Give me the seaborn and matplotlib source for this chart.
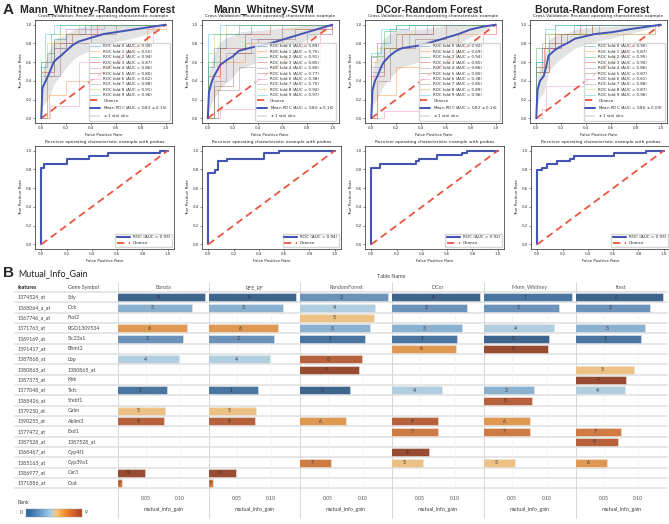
import numpy as np
import pandas as pd
import seaborn as sns
import matplotlib.pyplot as plt
from matplotlib.colors import LinearSegmentedColormap

sns.set_theme(style="white")
plt.rcParams["font.family"] = ["DejaVu Sans"]

W, H = 669, 524

# ---------------- A: cross-validated ROC panels ----------------
panel_titles = ["Mann_Whitney-Random Forest", "Mann_Whitney-SVM",
                "DCor-Random Forest", "Boruta-Random Forest"]

# fold curves: corner points of each step curve (fpr, tpr)
mwrf_fold_fpr = [[0, 0, .05, .1, .2, .35, 1], [0, .06, .2, .47, .7, .85, 1],
                 [0, 0, .08, .15, 1], [0, 0, .1, .25, .45, 1], [0, 0, .1, .2, .5, 1],
                 [0, .05, .15, .4, .6, 1], [0, .07, .3, .6, .9, 1], [0, 0, .1, .2, .4, 1],
                 [0, 0, .05, .15, .3, 1], [0, 0, .03, .1, 1]]
mwrf_fold_tpr = [[0, .55, .7, .85, .9, 1, 1], [0, .25, .4, .55, .75, .95, 1],
                 [0, .6, .9, 1, 1], [0, .5, .8, .9, 1, 1], [0, .6, .75, .95, 1, 1],
                 [0, .45, .8, .9, 1, 1], [0, .13, .6, .8, 1, 1], [0, .45, .75, .9, 1, 1],
                 [0, .6, .8, .9, 1, 1], [0, .4, .9, 1, 1]]
mwrf_fold_auc = [0.90, 0.55, 0.94, 0.87, 0.86, 0.80, 0.62, 0.88, 0.91, 0.96]
mwrf_mean_fpr = [0, .01, .03, .05, .07, .1, .13, .16, .2, .25, .3, .4, .5, .6, .75, .9, 1]
mwrf_mean_tpr = [0, .33, .38, .44, .5, .6, .64, .67, .72, .78, .82, .86, .9, .92, .95, .98, 1]
mwrf_std_tpr = [0, .2, .22, .24, .25, .24, .22, .2, .18, .16, .15, .13, .11, .1, .09, .06, 0]
mwrf_auc = (0.82, 0.15)

mwsvm_fold_fpr = [[0, 0, .05, .15, .35, 1], [0, .05, .1, .3, .6, 1], [0, 0, .1, .25, 1],
                  [0, 0, .1, .3, .5, 1], [0, .05, .15, .35, .6, 1], [0, .05, .2, .4, .7, 1],
                  [0, .1, .45, .75, .9, 1], [0, .08, .25, .5, .8, 1], [0, 0, .05, .15, 1],
                  [0, 0, .1, 1]]
mwsvm_fold_tpr = [[0, .55, .75, .9, 1, 1], [0, .3, .6, .8, .95, 1], [0, .6, .9, 1, 1],
                  [0, .45, .75, .9, 1, 1], [0, .4, .7, .85, 1, 1], [0, .35, .7, .85, .95, 1],
                  [0, .1, .35, .6, .9, 1], [0, .3, .55, .8, .9, 1], [0, .7, .9, 1, 1],
                  [0, .9, 1, 1]]
mwsvm_fold_auc = [0.89, 0.75, 0.91, 0.85, 0.80, 0.77, 0.38, 0.70, 0.94, 0.97]
mwsvm_mean_fpr = [0, .01, .03, .05, .08, .1, .15, .2, .25, .3, .4, .5, .6, .7, .8, .9, 1]
mwsvm_mean_tpr = [0, .28, .38, .45, .52, .57, .62, .66, .72, .74, .77, .8, .84, .88, .92, .96, 1]
mwsvm_std_tpr = [0, .2, .22, .24, .25, .25, .24, .22, .2, .19, .17, .15, .13, .1, .08, .05, 0]
mwsvm_auc = (0.80, 0.16)

dcrf_fold_fpr = [[0, 0, .05, .15, .3, 1], [0, .05, .2, .4, .7, 1], [0, 0, .1, .2, 1],
                 [0, 0, .1, .25, .5, 1], [0, 0, .1, .2, .45, 1], [0, .05, .15, .35, .6, 1],
                 [0, .1, .4, .7, .9, 1], [0, 0, .1, .3, .5, 1], [0, 0, .05, .2, .35, 1],
                 [0, 0, .08, .2, 1]]
dcrf_fold_tpr = [[0, .65, .8, .95, 1, 1], [0, .25, .55, .75, .9, 1], [0, .67, .93, 1, 1],
                 [0, .45, .75, .9, 1, 1], [0, .55, .75, .9, 1, 1], [0, .4, .75, .85, 1, 1],
                 [0, .08, .3, .55, .9, 1], [0, .5, .75, .9, 1, 1], [0, .6, .75, .9, 1, 1],
                 [0, .7, .95, 1, 1]]
dcrf_fold_auc = [0.92, 0.69, 0.94, 0.85, 0.86, 0.80, 0.38, 0.85, 0.89, 0.96]
dcrf_mean_fpr = [0, .01, .03, .05, .08, .1, .15, .2, .25, .3, .4, .5, .6, .7, .8, .9, 1]
dcrf_mean_tpr = [0, .3, .4, .45, .55, .6, .67, .72, .75, .76, .78, .82, .86, .9, .95, .98, 1]
dcrf_std_tpr = [0, .2, .22, .24, .25, .25, .24, .22, .2, .19, .17, .15, .13, .1, .08, .05, 0]
dcrf_auc = (0.82, 0.16)

borf_fold_fpr = [[0, 0, .05, .15, .3, 1], [0, 0, .1, .2, .45, 1], [0, 0, .07, .15, 1],
                 [0, 0, .06, .15, .35, 1], [0, 0, .1, .2, .5, 1], [0, 0, .1, .25, .45, 1],
                 [0, .05, .08, .4, .7, .95, 1], [0, 0, .05, .2, .4, 1], [0, 0, .1, .95, 1],
                 [0, 0, .07, .15, 1]]
borf_fold_tpr = [[0, .6, .75, .9, 1, 1], [0, .5, .75, .9, 1, 1], [0, .75, .9, 1, 1],
                 [0, .55, .75, .9, 1, 1], [0, .55, .75, .9, 1, 1], [0, .5, .8, .9, 1, 1],
                 [0, .1, .35, .75, .9, 1, 1], [0, .5, .8, .9, 1, 1], [0, .55, .9, 1, 1],
                 [0, .6, .95, 1, 1]]
borf_fold_auc = [0.90, 0.87, 0.95, 0.90, 0.86, 0.87, 0.61, 0.88, 0.87, 0.96]
borf_mean_fpr = [0, .01, .03, .06, .085, .1, .15, .2, .26, .31, .47, .61, .74, .87, 1]
borf_mean_tpr = [0, .3, .4, .45, .58, .67, .73, .77, .81, .85, .9, .92, .95, .975, 1]
borf_std_tpr = [0, .15, .17, .18, .18, .17, .15, .13, .11, .1, .08, .06, .05, .03, 0]
borf_auc = (0.86, 0.09)

# single ROC with probas (bottom row)
probas_fpr = [[0, 0, .02, .2, .38, .53, .94, 1],
              [0, 0, .05, .08, .145, .44, .56, 1],
              [0, 0, .065, .35, .375, .52, .72, .76, 1],
              [0, 0, .035, .075, .155, .26, .29, .61, .86, 1]]
probas_tpr = [[0, .82, .855, .91, .94, .97, 1, 1],
              [0, .76, .79, .885, .91, .97, 1, 1],
              [0, .82, .857, .885, .914, .95, .975, 1, 1],
              [0, .79, .82, .857, .885, .914, .943, .97, 1, 1]]
probas_auc = [0.93, 0.94, 0.92, 0.93]

# ---------------- B: mutual information table ----------------
feature_ids = ["1374524_at", "1368064_a_at", "1367746_a_at", "1371763_at", "1369169_at",
               "1391417_at", "1387868_at", "1380865_at", "1387375_at", "1377048_at",
               "1388426_at", "1379250_at", "1390255_at", "1377472_at", "1387528_at",
               "1368467_at", "1385165_at", "1386977_at", "1371886_at"]
gene_symbols = ["Sdy", "Dck", "Flot2", "RGD1309534", "Slc23a1", "Bhmt2", "Lbp",
                "1380865_at", "Khk", "Tkfc", "Srebf1", "Galm", "Ablim3", "Exd1",
                "1387528_at", "Cyp4f1", "Cyp39a1", "Car3", "Crat"]
mutual_info_gain = [0.137, 0.118, 0.116, 0.110, 0.104, 0.102, 0.099, 0.094, 0.082,
                    0.0815, 0.079, 0.078, 0.076, 0.075, 0.070, 0.063, 0.054, 0.049, 0.015]
N = None
methods = ["Boruta", "RFE_RF", "RandomForest", "DCor", "Mann_Whitney", "ttest"]
boruta_rank = [0, 3, N, 6, 2, N, 4, N, N, 1, N, 5, 8, N, N, N, N, 9, 7]
rfe_rf_rank = [0, 3, N, 6, 2, N, 4, N, N, 1, N, 5, 8, N, N, N, N, 9, 7]
randomforest_rank = [2, 4, 5, 3, 1, N, 8, 9, N, 0, N, N, 6, N, N, N, 7, N, N]
dcor_rank = [0, 2, N, 3, 1, 6, N, N, N, 4, N, N, 8, 7, N, 9, 5, N, N]
mann_whitney_rank = [1, 2, N, 4, 0, 9, N, N, N, 3, 8, N, 6, 7, N, N, 5, N, N]
ttest_rank = [0, 2, N, 3, 1, N, N, 5, 9, 4, N, N, N, 7, 8, N, 6, N, N]
method_ranks = [boruta_rank, rfe_rf_rank, randomforest_rank, dcor_rank,
                mann_whitney_rank, ttest_rank]

rank_colors = ["#2f659b", "#3b76ae", "#5e93c6", "#80b2dc", "#a9d0e8",
               "#fec473", "#f6993a", "#e8762b", "#cb5a29", "#a8431f"]

# ---------------- figure ----------------
fig = plt.figure(figsize=(W / 100, H / 100), dpi=100)


def px_axes(x0, y0, x1, y1, **kw):
    return fig.add_axes([x0 / W, 1 - y1 / H, (x1 - x0) / W, (y1 - y0) / H], **kw)


bg = px_axes(0, 0, W, H, zorder=-5)
bg.set_xlim(0, W)
bg.set_ylim(H, 0)
bg.axis("off")

blue = "#4454b4"
red = "#e9553f"
fold_pal = sns.color_palette("tab10", 10)


def style_roc(ax, title):
    ax.set_xlim(-0.05, 1.05)
    ax.set_ylim(-0.05, 1.05)
    ax.set_xticks([0, .2, .4, .6, .8, 1.0])
    ax.set_yticks([0, .2, .4, .6, .8, 1.0])
    ax.tick_params(labelsize=2.8, length=1.5, width=0.4, pad=1, colors="#333333",
                   bottom=True, left=True)
    for s in ax.spines.values():
        s.set_linewidth(0.5)
        s.set_color("#222222")
    ax.set_xlabel("False Positive Rate", fontsize=2.9, labelpad=1.5)
    ax.set_ylabel("True Positive Rate", fontsize=2.9, labelpad=1.5)
    ax.set_title(title, fontsize=3.2, pad=2)


cv_sets = [
    (mwrf_fold_fpr, mwrf_fold_tpr, mwrf_fold_auc, mwrf_mean_fpr, mwrf_mean_tpr, mwrf_std_tpr, mwrf_auc),
    (mwsvm_fold_fpr, mwsvm_fold_tpr, mwsvm_fold_auc, mwsvm_mean_fpr, mwsvm_mean_tpr, mwsvm_std_tpr, mwsvm_auc),
    (dcrf_fold_fpr, dcrf_fold_tpr, dcrf_fold_auc, dcrf_mean_fpr, dcrf_mean_tpr, dcrf_std_tpr, dcrf_auc),
    (borf_fold_fpr, borf_fold_tpr, borf_fold_auc, borf_mean_fpr, borf_mean_tpr, borf_std_tpr, borf_auc),
]
top_lefts = [35, 201.5, 365, 530]
bot_lefts = [35, 202, 365, 531]
title_cx = [98, 264, 429, 592]

for k, (ffpr, ftpr, fauc, mfpr, mtpr, mstd, (mauc, sauc)) in enumerate(cv_sets):
    ax = px_axes(top_lefts[k], 20, top_lefts[k] + 137, 123)
    for i in range(10):
        sns.lineplot(x=ffpr[i], y=ftpr[i], ax=ax, estimator=None, sort=False,
                     drawstyle="steps-post", color=fold_pal[i], lw=0.7, alpha=0.4,
                     label=f"ROC fold {i} (AUC = {fauc[i]:.2f})")
    sns.lineplot(x=[0, 1], y=[0, 1], ax=ax, color=red, lw=1.3, linestyle=(0, (4, 2.5)),
                 label="Chance")
    sns.lineplot(x=mfpr, y=mtpr, ax=ax, estimator=None, sort=False, color=blue, lw=1.4,
                 label=f"Mean ROC (AUC = {mauc:.2f} $\\pm$ {sauc:.2f})")
    m = np.array(mtpr)
    s = np.array(mstd)
    ax.fill_between(mfpr, np.maximum(m - s, 0), np.minimum(m + s, 1), color="grey",
                    alpha=0.22, lw=0, label=r"$\pm$ 1 std. dev.")
    style_roc(ax, "Cross Validation: Receiver operating characteristic example")
    ax.legend(loc="lower right", fontsize=2.9, labelspacing=0.35, handlelength=2.5,
              borderpad=0.4, frameon=True, framealpha=0.8, edgecolor="#cccccc")
    bg.text(title_cx[k], 10, panel_titles[k], ha="center", va="center", fontsize=7.6,
            fontweight="bold", family="Liberation Sans")

    ax2 = px_axes(bot_lefts[k], 146, bot_lefts[k] + 139, 249)
    sns.lineplot(x=probas_fpr[k], y=probas_tpr[k], ax=ax2, estimator=None, sort=False,
                 drawstyle="steps-post", color=blue, lw=1.5,
                 label=f"ROC (AUC = {probas_auc[k]:.2f})")
    sns.lineplot(x=[0, 1], y=[0, 1], ax=ax2, color=red, lw=1.3, linestyle=(0, (4, 2.5)),
                 label="Chance")
    style_roc(ax2, "Receiver operating characteristic example with probas")
    ax2.legend(loc="lower right", fontsize=3, handlelength=3, borderpad=0.4,
               frameon=True, edgecolor="#cccccc")

bg.text(3, 10, "A", fontsize=11, fontweight="bold", va="center", family="Liberation Sans")
bg.text(3, 273, "B", fontsize=11, fontweight="bold", va="center", family="Liberation Sans")
bg.text(18, 273.5, "Mutual_Info_Gain", fontsize=6.4, va="center", family="Lato", color="#222222")

# ---------------- table ----------------
row0, row_h = 297.3, 10.33
n_rows = len(gene_symbols)
y_top = row0 - row_h / 2
y_bot = row0 + (n_rows - 0.5) * row_h
col_edges = [118, 209, 300, 392, 484, 576, 667]
tf = "Lato"

for r in range(n_rows + 1):
    bg.plot([15, 667], [y_top + r * row_h] * 2, color="#e4e4e4", lw=1.3, zorder=1)
for xe in col_edges[:-1]:
    bg.plot([xe, xe], [282, 518], color="#d6d6d6", lw=0.7, zorder=1)

bg.text(391, 277, "Table Name", ha="center", va="center", fontsize=3.9, family=tf, color="#444444")
bg.text(18, 287.5, "features", va="center", fontsize=3.8, family=tf, color="#222222", fontweight="bold")
bg.text(68, 287.5, "Gene Symbol", va="center", fontsize=3.8, family=tf, color="#444444")
for j, name in enumerate(methods):
    bg.text((col_edges[j] + col_edges[j + 1]) / 2, 287.5, name, ha="center", va="center",
            fontsize=3.8, family=tf, color="#555555")
for i in range(n_rows):
    y = row0 + i * row_h
    bg.text(18, y, feature_ids[i], va="center", fontsize=3.8, family=tf, color="#444444")
    bg.text(68, y, gene_symbols[i], va="center", fontsize=3.8, family=tf, color="#444444")

rank_pal = {r: c for r, c in enumerate(rank_colors)}
for j, ranks in enumerate(method_ranks):
    ax = px_axes(col_edges[j], y_top, col_edges[j + 1], y_bot)
    ax.set_facecolor("none")
    sub = pd.DataFrame({"symbol": gene_symbols, "mi": mutual_info_gain, "rank": ranks}).dropna()
    sub["rank"] = sub["rank"].astype(int)
    sns.barplot(data=sub, x="mi", y="symbol", hue="rank", palette=rank_pal,
                order=gene_symbols, orient="h", dodge=False, legend=False, width=0.78,
                edgecolor="#e8e8e8", linewidth=0.4, ax=ax)
    for _, row in sub.iterrows():
        ax.text(max(row["mi"] / 2, 0.0105), gene_symbols.index(row["symbol"]), str(row["rank"]),
                ha="center", va="center", fontsize=3.6, family=tf, color="#333333")
    ax.set_xlim(0.0088, 0.1426)
    ax.set_ylim(n_rows - 0.5, -0.5)
    ax.set_xticks([0.05, 0.10])
    ax.set_xticklabels(["0.05", "0.10"])
    ax.tick_params(axis="x", labelsize=3.7, length=0, pad=5.5, colors="#555555")
    ax.set_yticks([])
    ax.set_ylabel("")
    ax.set_xlabel("mutual_info_gain", fontsize=3.9, labelpad=4.5, color="#444444", family=tf)
    for lab in ax.get_xticklabels():
        lab.set_family(tf)
    ax.grid(axis="x", color="#f2f2f2", lw=0.5)
    ax.set_axisbelow(True)
    for s in ax.spines.values():
        s.set_visible(False)

# rank legend
bg.text(18, 503, "Rank", va="center", fontsize=3.9, family=tf, color="#444444")
bg.text(23, 513, "0", va="center", ha="right", fontsize=3.7, family=tf, color="#444444")
bg.text(85, 513, "9", va="center", ha="left", fontsize=3.7, family=tf, color="#444444")
cax = px_axes(26, 509, 82, 517)
cmap = LinearSegmentedColormap.from_list("rank", rank_colors)
cax.imshow(np.linspace(0, 1, 200)[None, :], aspect="auto", cmap=cmap)
cax.set_xticks([])
cax.set_yticks([])
for s in cax.spines.values():
    s.set_linewidth(0.3)
    s.set_color("#999999")

fig.savefig("out.png", dpi=100)
